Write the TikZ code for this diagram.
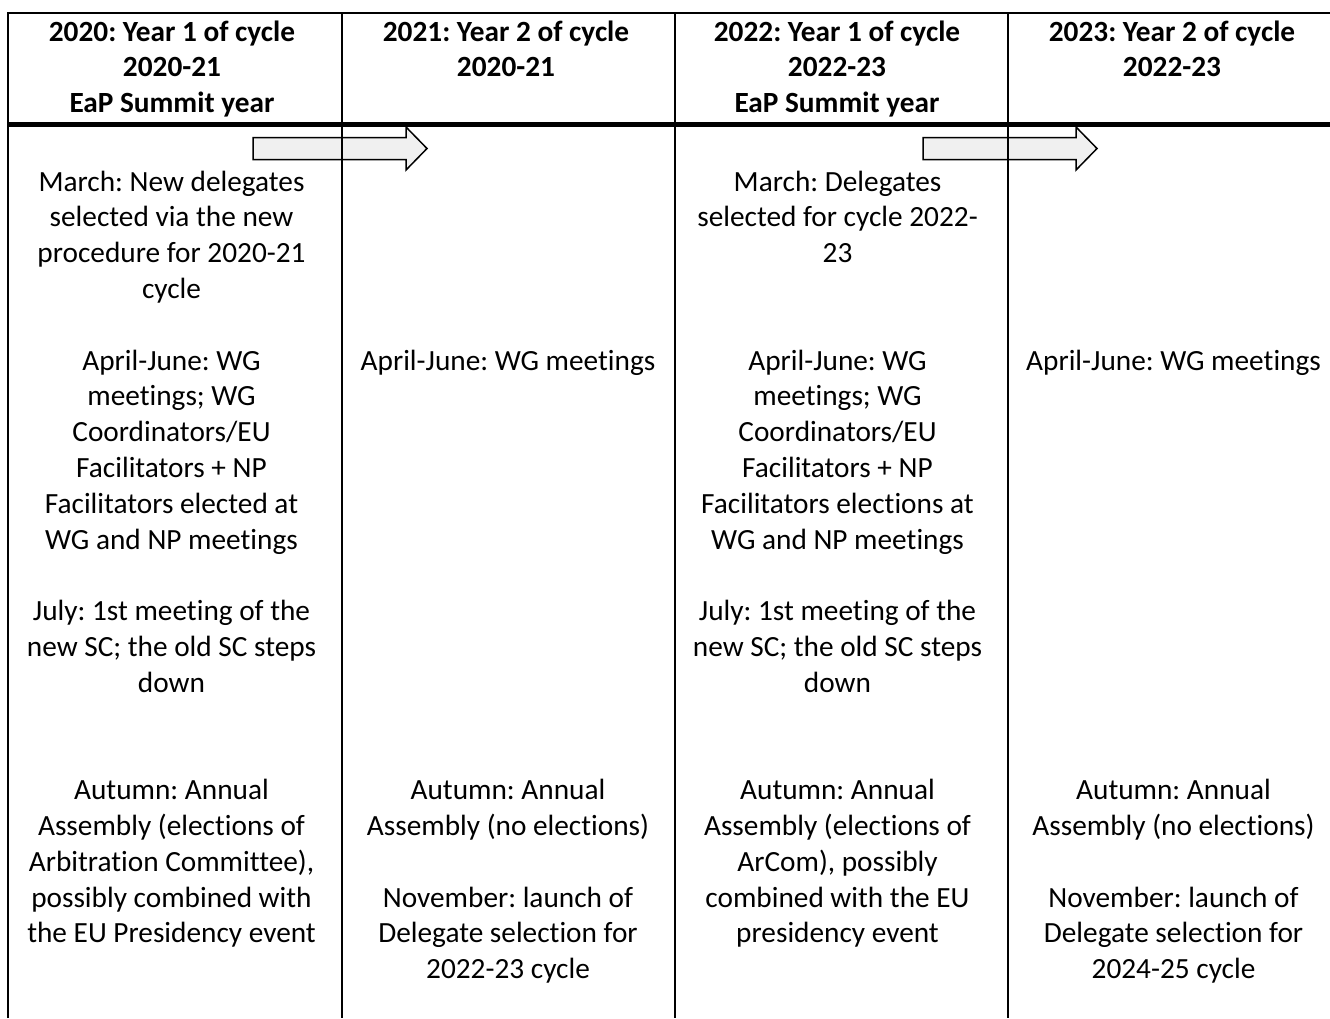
\documentclass[tikz,border=0pt]{standalone}
\usepackage{fontspec}
\setmainfont{Carlito}[Ligatures=NoCommon]
\usetikzlibrary{arrows.meta}

\begin{document}
\begin{tikzpicture}[x=1pt,y=-1pt,
  cell/.style={align=center,anchor=base,inner sep=0pt,font=\fontsize{29.3}{35.8}\selectfont\frenchspacing},
  head/.style={cell,font=\fontsize{29.3}{35.8}\selectfont\frenchspacing\bfseries},
  rule/.style={line width=2pt},
  bigarrow/.style={draw,line width=1.5pt,fill=black!6,line join=miter}]
  \useasboundingbox (0,0) rectangle (1330,1018);
  % year arrows
  \foreach \ax in {253,923} {
    \draw[bigarrow] (\ax,137.5) -- ++(153,0) -- ++(0,-10.5) -- ++(21,21.5)
      -- ++(-21,21.5) -- ++(0,-10.5) -- ++(-153,0) -- cycle;
  }
  % table rules
  \draw[rule] (8,1018) -- (8,13.3) -- (1330,13.3);
  \foreach \cx in {342,675,1008}
    \draw[rule] (\cx,13.3) -- (\cx,1018);
  \draw[line width=5pt] (8,124) -- (1330,124);
  % headers (anchor = baseline of last line)
  \node[head] (h20) at (172,112.6) {2020: Year 1 of cycle\\2020-21\\EaP Summit year};
  \node[head] (h21) at (506,76.8) {2021: Year 2 of cycle\\2020-21};
  \node[head] (h22) at (837,112.6) {2022: Year 1 of cycle\\2022-23\\EaP Summit year};
  \node[head] (h23) at (1172,76.8) {2023: Year 2 of cycle\\2022-23};
  % 2020
  \node[cell] (mar20) at (171.5,298.4) {March: New delegates\\selected via the new\\procedure for 2020-21\\cycle};
  \node[cell] (wg20) at (171.5,549) {April-June: WG\\meetings; WG\\Coordinators/EU\\Facilitators + NP\\Facilitators elected at\\WG and NP meetings};
  \node[cell] (jul20) at (171.5,692.2) {July: 1st meeting of the\\new SC; the old SC steps\\down};
  \node[cell] (aut20) at (171.5,942.8) {Autumn: Annual\\Assembly (elections of\\Arbitration Committee),\\possibly combined with\\the EU Presidency event};
  % 2021
  \node[cell] (wg21) at (508,370) {April-June: WG meetings};
  \node[cell] (aut21) at (508,835.4) {Autumn: Annual\\Assembly (no elections)};
  \node[cell] (nov21) at (508,978.6) {November: launch of\\Delegate selection for\\2022-23 cycle};
  % 2022
  \node[cell] (mar22) at (837.5,262.6) {March: Delegates\\selected for cycle 2022-\\23};
  \node[cell] (wg22) at (837.5,549) {April-June: WG\\meetings; WG\\Coordinators/EU\\Facilitators + NP\\Facilitators elections at\\WG and NP meetings};
  \node[cell] (jul22) at (837.5,692.2) {July: 1st meeting of the\\new SC; the old SC steps\\down};
  \node[cell] (aut22) at (837.5,942.8) {Autumn: Annual\\Assembly (elections of\\ArCom), possibly\\combined with the EU\\presidency event};
  % 2023
  \node[cell] (wg23) at (1173.5,370) {April-June: WG meetings};
  \node[cell] (aut23) at (1173.5,835.4) {Autumn: Annual\\Assembly (no elections)};
  \node[cell] (nov23) at (1173.5,978.6) {November: launch of\\Delegate selection for\\2024-25 cycle};
\end{tikzpicture}
\end{document}
